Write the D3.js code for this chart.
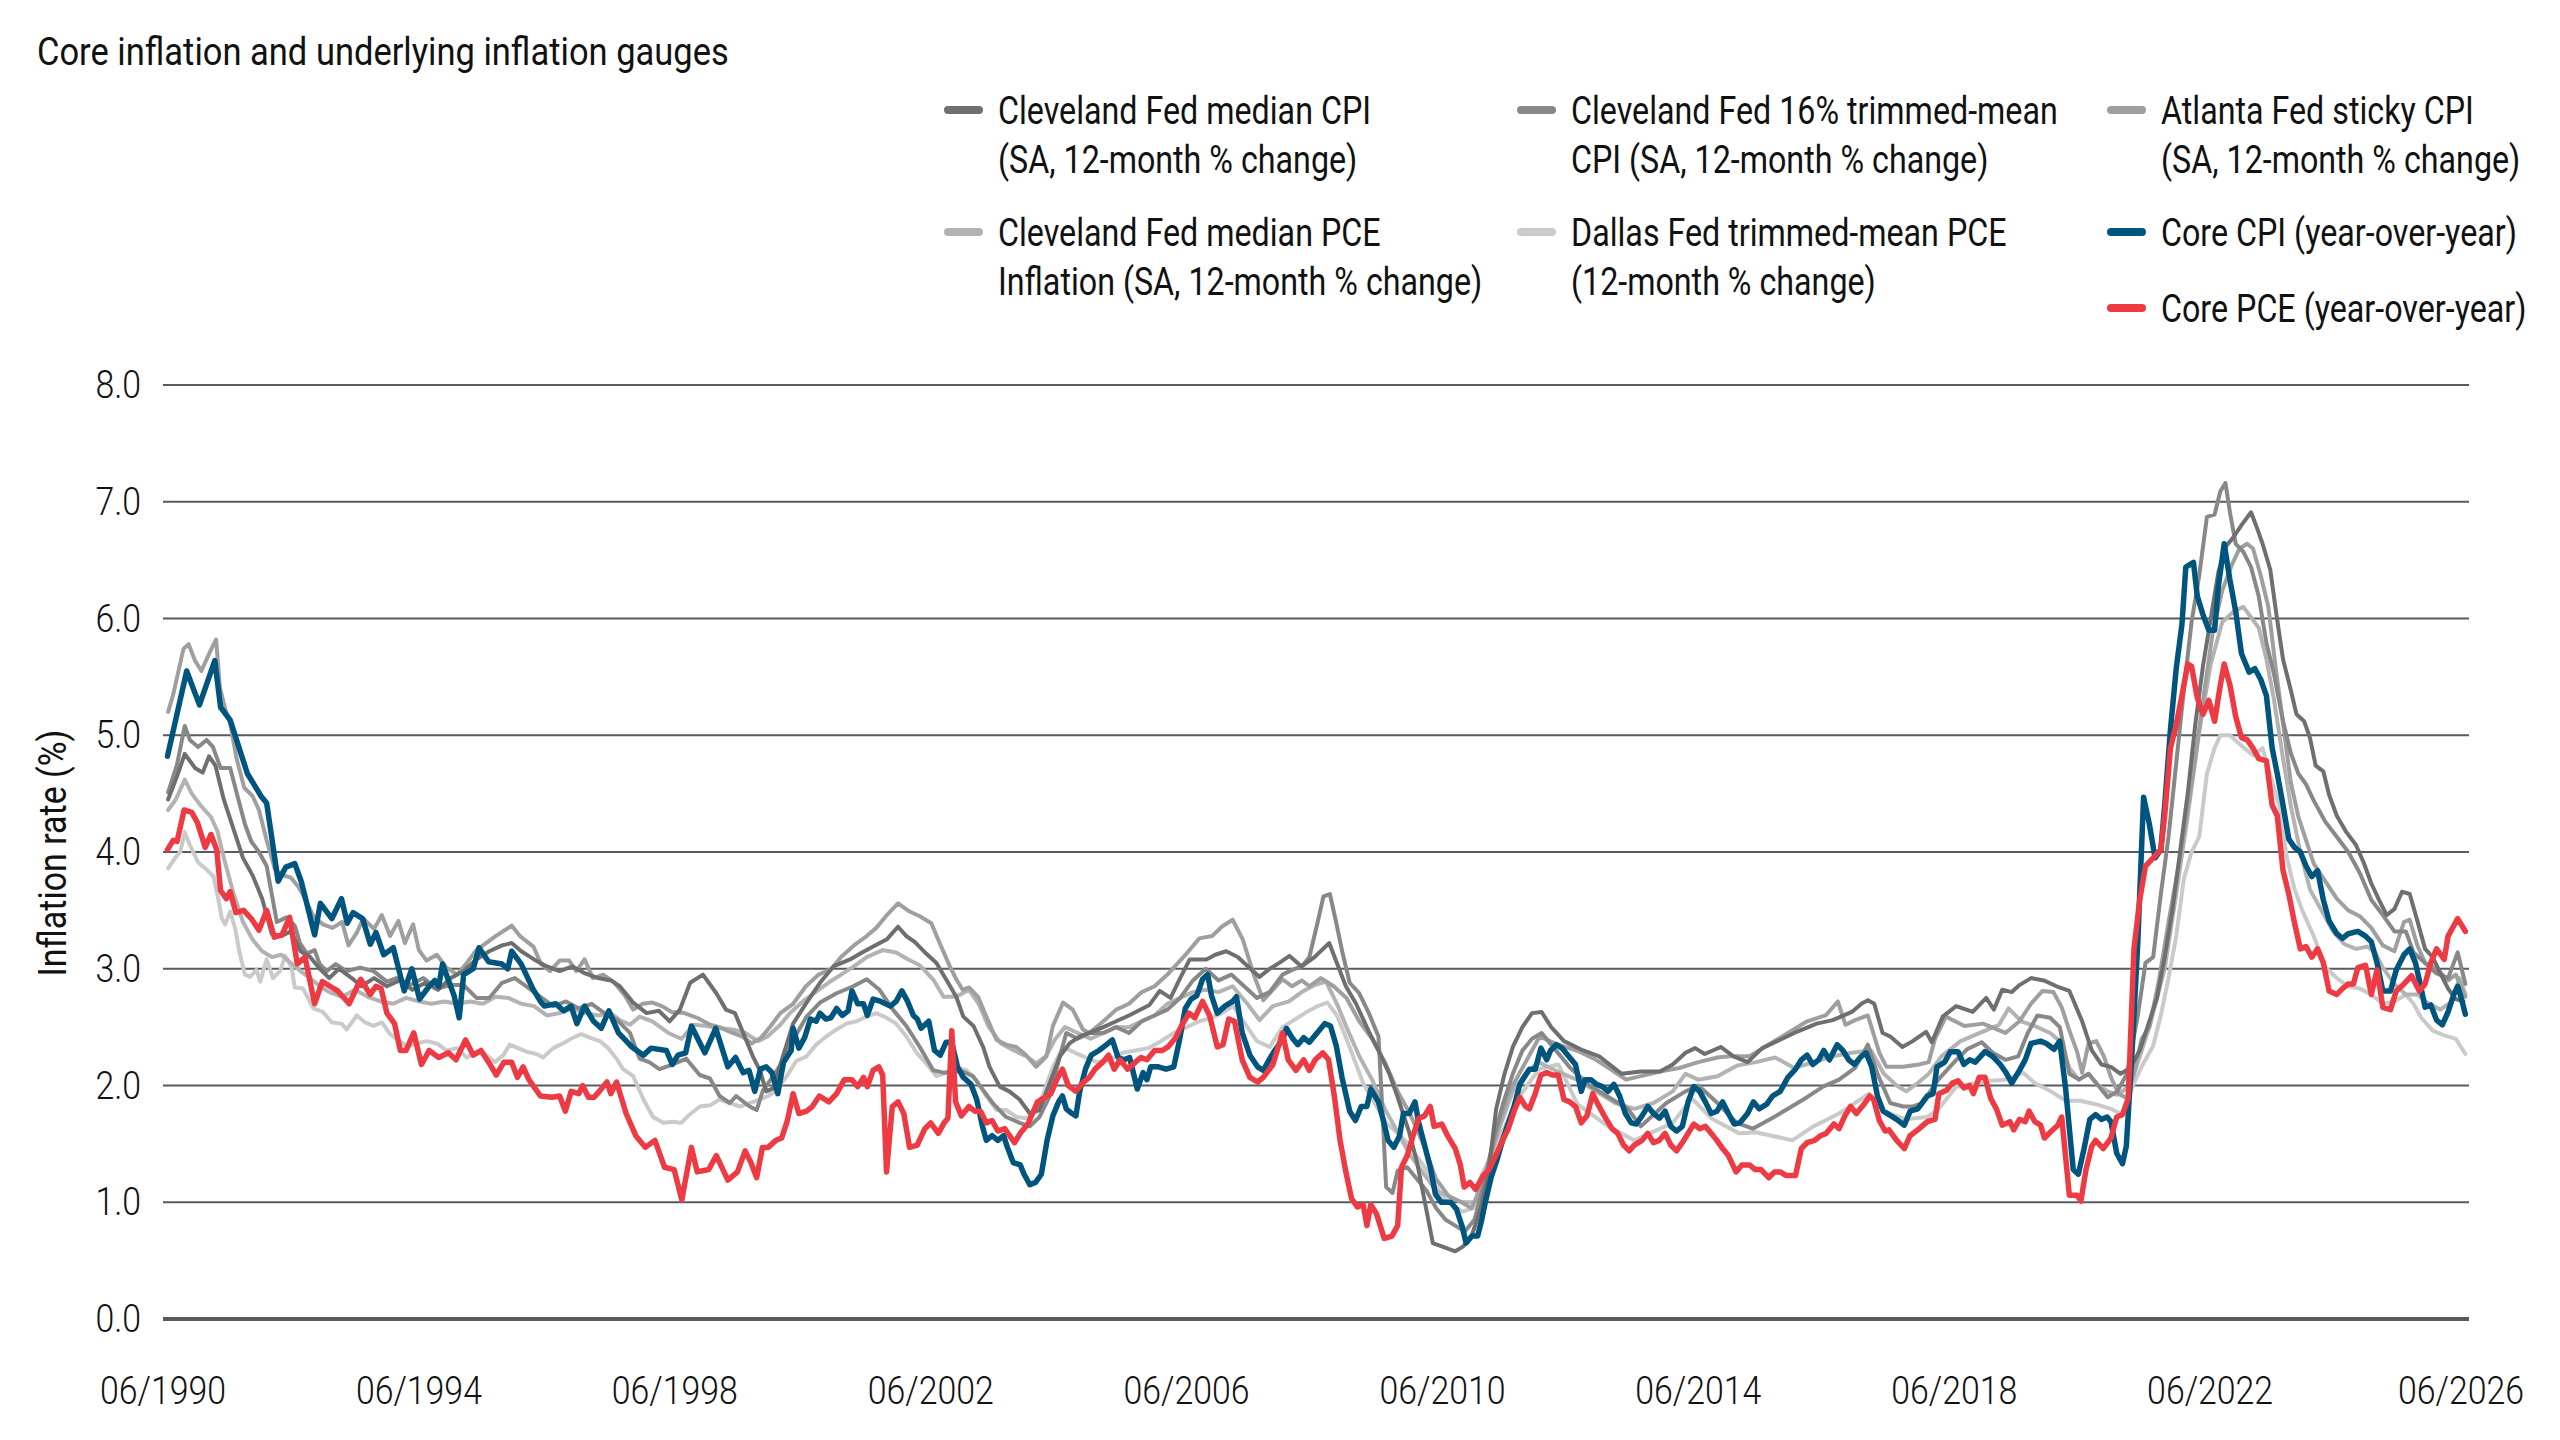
<!DOCTYPE html>
<html><head><meta charset="utf-8">
<script src="https://cdn.jsdelivr.net/npm/d3@7"></script>
<style>
html,body{margin:0;padding:0;background:#fff;}
svg text{font-family:Roboto,"Liberation Sans",sans-serif;fill:#111;}
</style></head>
<body>
<svg id="chart" width="2560" height="1440"></svg>
<script>
// ---------------- DATA (decimal year, % value) ----------------
const xTickLabels = ["06/1990","06/1994","06/1998","06/2002","06/2006","06/2010","06/2014","06/2018","06/2022","06/2026"];
const yTicks = [0,1,2,3,4,5,6,7,8];

const coreCPI = [[1990.57,4.82],[1990.87,5.55],[1991.07,5.26],[1991.31,5.64],[1991.4,5.24],[1991.55,5.13],[1991.82,4.67],[1991.91,4.59],[1992.03,4.48],[1992.12,4.42],[1992.3,3.75],[1992.42,3.87],[1992.56,3.9],[1992.66,3.75],[1992.87,3.29],[1992.96,3.56],[1993.14,3.43],[1993.29,3.6],[1993.38,3.39],[1993.47,3.48],[1993.62,3.43],[1993.74,3.21],[1993.83,3.31],[1993.95,3.12],[1994.1,3.18],[1994.27,2.81],[1994.39,3.0],[1994.51,2.74],[1994.66,2.85],[1994.75,2.9],[1994.81,2.85],[1994.87,3.04],[1995.05,2.77],[1995.13,2.58],[1995.2,2.95],[1995.35,3.0],[1995.44,3.18],[1995.59,3.06],[1995.8,3.04],[1995.89,3.0],[1995.95,3.15],[1996.1,3.04],[1996.28,2.83],[1996.4,2.72],[1996.46,2.68],[1996.64,2.7],[1996.76,2.64],[1996.88,2.68],[1996.97,2.53],[1997.09,2.68],[1997.23,2.55],[1997.35,2.49],[1997.47,2.64],[1997.62,2.45],[1997.83,2.33],[1998.01,2.26],[1998.13,2.32],[1998.37,2.3],[1998.46,2.18],[1998.55,2.26],[1998.67,2.28],[1998.76,2.51],[1998.97,2.28],[1999.14,2.49],[1999.33,2.16],[1999.45,2.24],[1999.57,2.11],[1999.66,2.13],[1999.75,1.95],[1999.84,2.14],[1999.93,2.16],[2000.02,2.11],[2000.11,1.93],[2000.2,2.2],[2000.32,2.3],[2000.35,2.49],[2000.44,2.32],[2000.53,2.41],[2000.62,2.57],[2000.71,2.55],[2000.77,2.62],[2000.86,2.57],[2000.94,2.58],[2001.03,2.66],[2001.12,2.6],[2001.21,2.64],[2001.27,2.81],[2001.36,2.7],[2001.45,2.7],[2001.51,2.6],[2001.6,2.74],[2001.72,2.72],[2001.87,2.68],[2001.96,2.72],[2002.05,2.81],[2002.14,2.72],[2002.23,2.6],[2002.29,2.57],[2002.35,2.49],[2002.47,2.55],[2002.56,2.3],[2002.65,2.26],[2002.74,2.37],[2002.83,2.37],[2002.92,2.16],[2003.01,2.07],[2003.13,2.01],[2003.22,1.88],[2003.31,1.65],[2003.37,1.53],[2003.46,1.57],[2003.55,1.53],[2003.64,1.57],[2003.7,1.47],[2003.79,1.34],[2003.9,1.32],[2003.96,1.24],[2004.05,1.15],[2004.14,1.17],[2004.23,1.24],[2004.32,1.53],[2004.41,1.74],[2004.5,1.86],[2004.56,1.91],[2004.62,1.8],[2004.71,1.76],[2004.77,1.74],[2004.83,1.95],[2004.92,2.14],[2005.01,2.26],[2005.13,2.3],[2005.25,2.35],[2005.34,2.39],[2005.43,2.24],[2005.52,2.22],[2005.61,2.24],[2005.73,1.97],[2005.82,2.11],[2005.88,2.05],[2005.94,2.16],[2006.06,2.16],[2006.18,2.14],[2006.3,2.16],[2006.39,2.39],[2006.48,2.66],[2006.57,2.74],[2006.66,2.77],[2006.75,2.91],[2006.83,2.95],[2006.89,2.77],[2006.98,2.62],[2007.1,2.68],[2007.22,2.72],[2007.28,2.76],[2007.37,2.45],[2007.49,2.26],[2007.61,2.16],[2007.7,2.13],[2007.79,2.22],[2007.88,2.3],[2008.0,2.39],[2008.06,2.49],[2008.15,2.41],[2008.24,2.35],[2008.33,2.41],[2008.42,2.37],[2008.54,2.45],[2008.66,2.53],[2008.75,2.51],[2008.84,2.34],[2008.93,2.07],[2009.05,1.78],[2009.14,1.7],[2009.23,1.82],[2009.32,1.82],[2009.38,1.97],[2009.5,1.86],[2009.59,1.67],[2009.65,1.53],[2009.74,1.47],[2009.83,1.57],[2009.89,1.76],[2009.98,1.76],[2010.07,1.86],[2010.13,1.68],[2010.22,1.49],[2010.31,1.3],[2010.39,1.07],[2010.48,1.0],[2010.63,1.0],[2010.72,0.94],[2010.81,0.79],[2010.87,0.65],[2010.96,0.71],[2011.05,0.71],[2011.11,0.84],[2011.17,1.0],[2011.26,1.21],[2011.35,1.36],[2011.44,1.53],[2011.53,1.68],[2011.62,1.82],[2011.71,2.01],[2011.8,2.09],[2011.86,2.14],[2011.95,2.14],[2012.04,2.32],[2012.13,2.22],[2012.19,2.3],[2012.28,2.35],[2012.37,2.32],[2012.46,2.26],[2012.58,2.18],[2012.67,1.95],[2012.73,2.05],[2012.82,2.05],[2012.91,2.01],[2013.0,1.99],[2013.09,1.95],[2013.18,2.01],[2013.27,1.91],[2013.36,1.76],[2013.45,1.68],[2013.53,1.67],[2013.62,1.74],[2013.71,1.82],[2013.8,1.76],[2013.89,1.72],[2013.98,1.78],[2014.07,1.65],[2014.16,1.61],[2014.25,1.65],[2014.34,1.86],[2014.43,1.99],[2014.52,1.95],[2014.61,1.86],[2014.7,1.76],[2014.79,1.78],[2014.88,1.86],[2014.97,1.76],[2015.06,1.67],[2015.15,1.68],[2015.27,1.76],[2015.36,1.86],[2015.45,1.8],[2015.57,1.84],[2015.66,1.91],[2015.78,1.95],[2015.9,2.07],[2016.02,2.14],[2016.11,2.22],[2016.2,2.26],[2016.29,2.18],[2016.38,2.22],[2016.46,2.3],[2016.55,2.22],[2016.67,2.35],[2016.76,2.3],[2016.85,2.22],[2016.94,2.18],[2017.03,2.24],[2017.12,2.28],[2017.21,2.16],[2017.3,1.91],[2017.39,1.78],[2017.48,1.75],[2017.6,1.71],[2017.72,1.66],[2017.81,1.78],[2017.93,1.8],[2018.08,1.91],[2018.17,1.93],[2018.23,2.16],[2018.35,2.2],[2018.44,2.29],[2018.56,2.29],[2018.65,2.18],[2018.74,2.22],[2018.83,2.2],[2018.98,2.29],[2019.1,2.25],[2019.22,2.18],[2019.31,2.11],[2019.4,2.02],[2019.52,2.13],[2019.61,2.22],[2019.7,2.36],[2019.85,2.38],[2019.94,2.36],[2020.06,2.31],[2020.15,2.38],[2020.24,1.98],[2020.36,1.28],[2020.44,1.24],[2020.53,1.46],[2020.62,1.71],[2020.71,1.75],[2020.8,1.71],[2020.89,1.73],[2020.95,1.69],[2021.04,1.42],[2021.13,1.33],[2021.19,1.48],[2021.28,2.29],[2021.37,3.23],[2021.46,4.47],[2021.55,4.24],[2021.64,3.95],[2021.73,4.02],[2021.79,4.4],[2021.88,5.05],[2021.97,5.57],[2022.06,5.95],[2022.12,6.44],[2022.24,6.48],[2022.3,6.19],[2022.39,6.03],[2022.48,5.9],[2022.57,5.9],[2022.63,6.28],[2022.72,6.64],[2022.81,6.33],[2022.9,6.06],[2022.99,5.7],[2023.11,5.54],[2023.2,5.57],[2023.29,5.48],[2023.38,5.34],[2023.47,4.89],[2023.55,4.67],[2023.64,4.4],[2023.73,4.11],[2023.82,4.04],[2023.91,4.0],[2024.0,3.88],[2024.09,3.79],[2024.18,3.84],[2024.27,3.59],[2024.36,3.41],[2024.48,3.3],[2024.57,3.26],[2024.66,3.3],[2024.81,3.32],[2024.93,3.28],[2025.02,3.23],[2025.11,3.05],[2025.2,2.81],[2025.32,2.81],[2025.41,2.99],[2025.53,3.12],[2025.62,3.17],[2025.71,3.05],[2025.8,2.83],[2025.86,2.67],[2025.95,2.69],[2026.04,2.56],[2026.13,2.52],[2026.22,2.63],[2026.31,2.78],[2026.37,2.85],[2026.43,2.74],[2026.49,2.61]];

const corePCE = [[1990.57,4.02],[1990.66,4.1],[1990.72,4.09],[1990.83,4.36],[1990.95,4.34],[1991.04,4.25],[1991.16,4.04],[1991.25,4.15],[1991.34,4.02],[1991.4,3.67],[1991.49,3.6],[1991.55,3.66],[1991.64,3.48],[1991.76,3.5],[1991.88,3.43],[1992.0,3.33],[1992.12,3.5],[1992.24,3.27],[1992.36,3.29],[1992.48,3.44],[1992.6,3.04],[1992.72,3.1],[1992.87,2.7],[1992.99,2.89],[1993.11,2.85],[1993.23,2.81],[1993.41,2.7],[1993.59,2.91],[1993.74,2.78],[1993.83,2.85],[1993.91,2.83],[1994.0,2.62],[1994.12,2.53],[1994.21,2.3],[1994.3,2.3],[1994.42,2.45],[1994.54,2.18],[1994.66,2.3],[1994.81,2.24],[1994.96,2.28],[1995.08,2.22],[1995.23,2.39],[1995.35,2.26],[1995.47,2.3],[1995.59,2.2],[1995.71,2.09],[1995.83,2.2],[1995.95,2.2],[1996.04,2.07],[1996.13,2.16],[1996.22,2.05],[1996.4,1.91],[1996.58,1.9],[1996.7,1.91],[1996.79,1.78],[1996.88,1.95],[1997.0,1.93],[1997.06,2.0],[1997.15,1.9],[1997.24,1.9],[1997.32,1.95],[1997.44,2.03],[1997.5,1.93],[1997.59,2.03],[1997.74,1.76],[1997.89,1.57],[1998.04,1.47],[1998.19,1.53],[1998.34,1.3],[1998.49,1.28],[1998.61,1.02],[1998.76,1.47],[1998.85,1.26],[1999.03,1.28],[1999.15,1.4],[1999.33,1.19],[1999.48,1.26],[1999.6,1.44],[1999.69,1.34],[1999.78,1.21],[1999.87,1.47],[1999.96,1.47],[2000.08,1.53],[2000.17,1.55],[2000.26,1.7],[2000.35,1.93],[2000.44,1.76],[2000.56,1.78],[2000.65,1.82],[2000.76,1.91],[2000.91,1.86],[2001.03,1.93],[2001.15,2.05],[2001.27,2.05],[2001.36,1.99],[2001.45,2.07],[2001.51,1.99],[2001.6,2.13],[2001.69,2.16],[2001.75,2.09],[2001.81,1.26],[2001.9,1.82],[2001.99,1.86],[2002.08,1.76],[2002.17,1.47],[2002.29,1.49],[2002.41,1.63],[2002.5,1.68],[2002.62,1.59],[2002.71,1.68],[2002.77,1.72],[2002.83,2.47],[2002.89,1.86],[2002.98,1.74],[2003.1,1.82],[2003.19,1.78],[2003.28,1.78],[2003.37,1.68],[2003.46,1.7],[2003.55,1.61],[2003.66,1.63],[2003.81,1.51],[2003.9,1.59],[2004.02,1.67],[2004.17,1.86],[2004.29,1.9],[2004.38,1.93],[2004.47,2.05],[2004.56,2.14],[2004.65,2.0],[2004.77,1.95],[2004.89,2.03],[2004.98,2.07],[2005.07,2.14],[2005.19,2.2],[2005.28,2.26],[2005.37,2.14],[2005.46,2.22],[2005.58,2.14],[2005.7,2.2],[2005.79,2.24],[2005.88,2.22],[2006.0,2.3],[2006.12,2.3],[2006.21,2.33],[2006.33,2.41],[2006.42,2.51],[2006.54,2.62],[2006.63,2.58],[2006.75,2.72],[2006.86,2.6],[2006.98,2.33],[2007.07,2.35],[2007.16,2.57],[2007.25,2.55],[2007.37,2.22],[2007.49,2.07],[2007.61,2.03],[2007.7,2.07],[2007.85,2.18],[2008.0,2.45],[2008.09,2.22],[2008.21,2.13],[2008.33,2.22],[2008.42,2.13],[2008.51,2.22],[2008.63,2.28],[2008.72,2.22],[2008.81,1.91],[2008.9,1.53],[2008.99,1.26],[2009.08,1.03],[2009.17,0.96],[2009.26,0.98],[2009.32,0.8],[2009.38,0.98],[2009.47,0.9],[2009.59,0.69],[2009.71,0.71],[2009.8,0.8],[2009.86,1.3],[2009.95,1.4],[2010.04,1.57],[2010.13,1.72],[2010.22,1.74],[2010.31,1.82],[2010.37,1.65],[2010.49,1.67],[2010.58,1.57],[2010.7,1.46],[2010.78,1.32],[2010.84,1.13],[2010.93,1.17],[2011.02,1.11],[2011.14,1.23],[2011.23,1.28],[2011.35,1.42],[2011.44,1.53],[2011.53,1.63],[2011.62,1.78],[2011.71,1.9],[2011.8,1.82],[2011.86,1.8],[2011.95,1.93],[2012.04,2.09],[2012.13,2.11],[2012.22,2.09],[2012.31,2.09],[2012.4,1.88],[2012.49,1.86],[2012.58,1.82],[2012.67,1.68],[2012.76,1.74],[2012.85,1.93],[2012.93,1.84],[2013.03,1.74],[2013.15,1.63],[2013.24,1.59],[2013.33,1.49],[2013.42,1.44],[2013.5,1.49],[2013.62,1.53],[2013.71,1.59],[2013.8,1.51],[2013.89,1.53],[2013.98,1.59],[2014.07,1.49],[2014.16,1.44],[2014.25,1.51],[2014.34,1.59],[2014.43,1.67],[2014.52,1.63],[2014.61,1.65],[2014.7,1.59],[2014.79,1.53],[2014.88,1.46],[2014.97,1.4],[2015.09,1.26],[2015.18,1.32],[2015.3,1.32],[2015.39,1.28],[2015.48,1.28],[2015.6,1.21],[2015.69,1.26],[2015.78,1.26],[2015.87,1.23],[2016.02,1.23],[2016.11,1.46],[2016.2,1.51],[2016.32,1.53],[2016.41,1.57],[2016.5,1.59],[2016.62,1.67],[2016.7,1.63],[2016.79,1.74],[2016.88,1.82],[2016.97,1.76],[2017.09,1.84],[2017.18,1.91],[2017.24,1.88],[2017.33,1.7],[2017.42,1.61],[2017.48,1.62],[2017.6,1.53],[2017.72,1.46],[2017.81,1.57],[2017.93,1.62],[2018.08,1.69],[2018.2,1.71],[2018.26,1.93],[2018.38,1.96],[2018.47,2.02],[2018.56,2.04],[2018.65,1.98],[2018.74,2.0],[2018.8,1.93],[2018.89,2.07],[2018.98,2.07],[2019.07,1.89],[2019.16,1.8],[2019.25,1.66],[2019.37,1.69],[2019.43,1.62],[2019.52,1.71],[2019.61,1.69],[2019.67,1.78],[2019.76,1.69],[2019.85,1.66],[2019.91,1.55],[2020.0,1.6],[2020.12,1.66],[2020.18,1.73],[2020.3,1.06],[2020.42,1.06],[2020.48,1.01],[2020.56,1.28],[2020.65,1.48],[2020.71,1.53],[2020.83,1.46],[2020.95,1.55],[2021.04,1.73],[2021.13,1.75],[2021.22,1.89],[2021.31,3.17],[2021.4,3.59],[2021.49,3.88],[2021.61,3.95],[2021.73,4.02],[2021.79,4.31],[2021.88,4.89],[2021.97,5.09],[2022.06,5.34],[2022.15,5.61],[2022.21,5.59],[2022.3,5.32],[2022.39,5.18],[2022.48,5.3],[2022.57,5.12],[2022.66,5.43],[2022.72,5.61],[2022.81,5.43],[2022.9,5.16],[2022.99,4.98],[2023.08,4.96],[2023.17,4.89],[2023.26,4.8],[2023.38,4.78],[2023.47,4.4],[2023.55,4.31],[2023.64,3.84],[2023.73,3.64],[2023.82,3.39],[2023.91,3.17],[2024.0,3.19],[2024.09,3.1],[2024.18,3.17],[2024.27,3.05],[2024.36,2.81],[2024.48,2.78],[2024.57,2.83],[2024.66,2.87],[2024.74,2.87],[2024.81,3.01],[2024.93,3.03],[2025.02,2.78],[2025.11,2.99],[2025.2,2.67],[2025.32,2.65],[2025.41,2.81],[2025.53,2.87],[2025.65,2.94],[2025.77,2.81],[2025.86,2.87],[2025.95,3.05],[2026.04,3.17],[2026.16,3.08],[2026.22,3.28],[2026.37,3.43],[2026.49,3.32]];

const medianCPI = [[1990.58,4.45],[1990.72,4.65],[1990.84,4.84],[1991.0,4.72],[1991.12,4.68],[1991.22,4.82],[1991.32,4.74],[1991.45,4.45],[1991.6,4.2],[1991.75,3.95],[1991.9,3.8],[1992.05,3.6],[1992.2,3.3],[1992.35,3.28],[1992.5,3.32],[1992.65,3.15],[1992.8,3.1],[1992.95,3.0],[1993.1,2.92],[1993.25,3.0],[1993.45,2.92],[1993.6,2.85],[1993.8,2.92],[1994.0,2.85],[1994.2,2.9],[1994.4,2.82],[1994.6,2.88],[1994.8,2.82],[1995.0,2.92],[1995.2,2.98],[1995.4,3.08],[1995.6,3.15],[1995.8,3.2],[1995.95,3.22],[1996.1,3.15],[1996.3,3.08],[1996.5,3.02],[1996.7,2.98],[1996.9,3.02],[1997.1,2.96],[1997.3,2.92],[1997.5,2.9],[1997.64,2.85],[1997.85,2.71],[1998.06,2.62],[1998.25,2.64],[1998.42,2.55],[1998.58,2.65],[1998.74,2.88],[1998.94,2.95],[1999.15,2.79],[1999.3,2.65],[1999.44,2.62],[1999.57,2.45],[1999.72,2.25],[1999.83,2.13],[1999.93,1.95],[2000.05,1.98],[2000.14,2.16],[2000.35,2.53],[2000.56,2.71],[2000.77,2.88],[2000.98,3.02],[2001.24,3.08],[2001.4,3.13],[2001.6,3.19],[2001.81,3.25],[2001.99,3.36],[2002.12,3.28],[2002.25,3.23],[2002.43,3.13],[2002.59,3.05],[2002.74,2.91],[2002.9,2.76],[2003.01,2.59],[2003.17,2.51],[2003.32,2.33],[2003.42,2.16],[2003.58,1.99],[2003.73,1.95],[2003.89,1.88],[2004.05,1.76],[2004.2,1.79],[2004.36,2.02],[2004.52,2.25],[2004.67,2.36],[2004.83,2.42],[2004.98,2.45],[2005.2,2.5],[2005.4,2.55],[2005.6,2.6],[2005.92,2.69],[2006.08,2.81],[2006.25,2.75],[2006.4,2.92],[2006.55,3.08],[2006.81,3.08],[2006.95,3.12],[2007.12,3.15],[2007.3,3.1],[2007.5,3.0],[2007.64,2.93],[2007.8,3.0],[2007.95,3.05],[2008.11,3.11],[2008.3,3.02],[2008.5,3.1],[2008.73,3.22],[2008.85,3.05],[2008.99,2.85],[2009.15,2.7],[2009.36,2.45],[2009.5,2.3],[2009.67,2.1],[2009.8,1.9],[2009.98,1.6],[2010.1,1.35],[2010.19,1.1],[2010.35,0.65],[2010.5,0.62],[2010.7,0.58],[2010.82,0.62],[2010.95,0.7],[2011.1,0.95],[2011.22,1.25],[2011.34,1.8],[2011.47,2.1],[2011.6,2.33],[2011.75,2.5],[2011.9,2.62],[2012.05,2.63],[2012.2,2.5],[2012.4,2.38],[2012.7,2.3],[2012.95,2.25],[2013.3,2.1],[2013.6,2.12],[2013.9,2.12],[2014.1,2.18],[2014.3,2.28],[2014.45,2.32],[2014.6,2.27],[2014.85,2.33],[2015.05,2.25],[2015.27,2.2],[2015.5,2.32],[2015.77,2.39],[2016.0,2.45],[2016.35,2.53],[2016.6,2.56],[2016.9,2.63],[2017.05,2.7],[2017.15,2.73],[2017.25,2.7],[2017.38,2.45],[2017.5,2.42],[2017.69,2.33],[2017.85,2.38],[2018.06,2.46],[2018.15,2.37],[2018.32,2.59],[2018.53,2.68],[2018.79,2.63],[2019.0,2.75],[2019.12,2.65],[2019.25,2.82],[2019.4,2.8],[2019.52,2.86],[2019.7,2.92],[2019.9,2.9],[2020.1,2.85],[2020.3,2.81],[2020.5,2.55],[2020.65,2.3],[2020.8,2.18],[2020.95,2.16],[2021.1,2.1],[2021.25,2.15],[2021.4,2.3],[2021.55,2.55],[2021.67,2.75],[2021.79,3.1],[2021.91,3.5],[2022.03,4.0],[2022.15,4.5],[2022.27,5.1],[2022.39,5.6],[2022.51,6.0],[2022.63,6.4],[2022.75,6.62],[2022.87,6.7],[2022.99,6.8],[2023.14,6.91],[2023.23,6.78],[2023.32,6.64],[2023.44,6.42],[2023.53,6.06],[2023.64,5.65],[2023.76,5.39],[2023.85,5.18],[2023.97,5.12],[2024.06,4.98],[2024.15,4.74],[2024.27,4.69],[2024.36,4.49],[2024.48,4.31],[2024.63,4.17],[2024.78,4.06],[2024.9,3.91],[2025.02,3.73],[2025.14,3.59],[2025.26,3.46],[2025.38,3.51],[2025.5,3.66],[2025.62,3.64],[2025.74,3.41],[2025.86,3.17],[2025.98,3.1],[2026.1,2.96],[2026.22,2.83],[2026.34,2.74],[2026.46,2.72]];

const trimmedCPI = [[1990.58,4.51],[1990.72,4.75],[1990.84,5.08],[1990.92,4.96],[1991.05,4.9],[1991.18,4.96],[1991.28,4.9],[1991.4,4.72],[1991.55,4.72],[1991.65,4.51],[1991.78,4.24],[1991.88,4.09],[1992.0,4.0],[1992.12,3.88],[1992.2,3.64],[1992.28,3.4],[1992.43,3.44],[1992.56,3.37],[1992.64,3.22],[1992.75,3.13],[1992.87,3.16],[1992.95,3.04],[1993.06,2.98],[1993.2,3.04],[1993.37,2.98],[1993.58,3.01],[1993.79,2.98],[1994.0,2.89],[1994.15,2.92],[1994.36,2.86],[1994.57,2.92],[1994.78,2.83],[1995.0,2.86],[1995.2,2.86],[1995.4,2.75],[1995.6,2.75],[1995.8,2.88],[1996.0,2.92],[1996.2,2.84],[1996.4,2.76],[1996.6,2.68],[1996.8,2.72],[1997.0,2.66],[1997.2,2.7],[1997.4,2.62],[1997.6,2.56],[1997.8,2.45],[1997.95,2.23],[1998.1,2.2],[1998.26,2.14],[1998.42,2.17],[1998.68,2.23],[1998.89,2.09],[1999.05,2.06],[1999.2,1.91],[1999.36,1.85],[1999.46,1.91],[1999.67,1.82],[1999.78,1.79],[1999.88,1.96],[2000.04,2.08],[2000.2,2.22],[2000.35,2.39],[2000.56,2.59],[2000.77,2.71],[2001.03,2.79],[2001.29,2.85],[2001.5,2.91],[2001.7,2.82],[2001.91,2.65],[2002.12,2.51],[2002.33,2.33],[2002.54,2.13],[2002.7,2.11],[2002.85,2.12],[2003.0,2.12],[2003.16,2.08],[2003.32,1.96],[2003.47,1.85],[2003.68,1.73],[2003.89,1.68],[2004.05,1.65],[2004.2,1.73],[2004.36,1.91],[2004.52,2.25],[2004.62,2.45],[2004.8,2.4],[2004.98,2.45],[2005.2,2.45],[2005.4,2.5],[2005.6,2.45],[2005.8,2.55],[2006.0,2.6],[2006.2,2.65],[2006.4,2.75],[2006.6,2.9],[2006.8,3.0],[2007.0,2.9],[2007.2,2.95],[2007.4,2.85],[2007.6,2.75],[2007.8,2.8],[2008.0,2.95],[2008.15,2.99],[2008.3,3.02],[2008.42,3.1],[2008.55,3.4],[2008.64,3.62],[2008.74,3.64],[2008.83,3.42],[2008.94,3.13],[2009.05,2.88],[2009.2,2.79],[2009.35,2.62],[2009.5,2.42],[2009.56,1.8],[2009.62,1.13],[2009.72,1.08],[2009.8,1.27],[2009.95,1.3],[2010.1,1.2],[2010.25,1.1],[2010.4,0.95],[2010.55,0.85],[2010.7,0.8],[2010.85,0.75],[2011.0,0.85],[2011.15,1.15],[2011.3,1.55],[2011.45,1.85],[2011.6,2.1],[2011.75,2.3],[2011.9,2.4],[2012.05,2.45],[2012.2,2.35],[2012.5,2.15],[2012.8,2.0],[2013.1,1.9],[2013.4,1.8],[2013.6,1.65],[2013.8,1.75],[2014.0,1.85],[2014.3,1.95],[2014.5,2.0],[2014.8,1.85],[2015.1,1.68],[2015.35,1.63],[2015.65,1.72],[2015.9,1.8],[2016.2,1.9],[2016.45,1.99],[2016.7,2.05],[2016.95,2.15],[2017.15,2.35],[2017.3,2.1],[2017.5,1.85],[2017.7,1.82],[2017.85,1.82],[2018.0,1.85],[2018.25,2.05],[2018.5,2.2],[2018.7,2.31],[2018.93,2.37],[2019.1,2.28],[2019.3,2.22],[2019.5,2.25],[2019.65,2.45],[2019.8,2.6],[2020.0,2.58],[2020.15,2.5],[2020.3,2.1],[2020.45,2.05],[2020.6,2.1],[2020.75,2.0],[2020.9,1.9],[2021.05,1.95],[2021.2,2.1],[2021.37,2.6],[2021.49,3.05],[2021.61,3.1],[2021.73,3.64],[2021.85,4.13],[2021.97,4.76],[2022.09,5.39],[2022.21,5.97],[2022.33,6.37],[2022.45,6.87],[2022.57,6.89],[2022.66,7.09],[2022.74,7.16],[2022.81,6.91],[2022.9,6.64],[2023.02,6.57],[2023.14,6.44],[2023.26,6.19],[2023.38,5.79],[2023.5,5.52],[2023.64,5.12],[2023.76,4.85],[2023.88,4.67],[2024.0,4.58],[2024.12,4.44],[2024.3,4.26],[2024.48,4.13],[2024.66,4.0],[2024.84,3.82],[2025.02,3.59],[2025.2,3.46],[2025.38,3.32],[2025.56,3.32],[2025.68,3.14],[2025.86,3.05],[2026.04,2.96],[2026.22,2.92],[2026.37,3.14],[2026.49,2.87]];

const stickyCPI = [[1990.58,5.2],[1990.66,5.35],[1990.82,5.74],[1990.9,5.78],[1991.0,5.64],[1991.1,5.55],[1991.23,5.71],[1991.33,5.82],[1991.39,5.41],[1991.47,5.23],[1991.55,5.1],[1991.65,4.8],[1991.77,4.55],[1991.9,4.48],[1992.0,4.36],[1992.12,4.1],[1992.25,3.85],[1992.38,3.8],[1992.5,3.78],[1992.62,3.7],[1992.72,3.6],[1992.85,3.45],[1993.0,3.38],[1993.15,3.35],[1993.3,3.4],[1993.4,3.2],[1993.53,3.31],[1993.63,3.43],[1993.8,3.34],[1993.92,3.46],[1994.05,3.28],[1994.18,3.41],[1994.28,3.22],[1994.41,3.38],[1994.5,3.16],[1994.62,3.07],[1994.78,3.12],[1994.93,3.01],[1995.1,2.95],[1995.25,3.05],[1995.4,3.16],[1995.55,3.22],[1995.7,3.28],[1995.87,3.34],[1995.95,3.37],[1996.08,3.28],[1996.29,3.19],[1996.41,3.04],[1996.55,2.98],[1996.7,3.07],[1996.85,3.07],[1996.96,2.98],[1997.09,3.08],[1997.22,2.92],[1997.38,2.95],[1997.54,2.89],[1997.72,2.77],[1997.85,2.65],[1998.0,2.7],[1998.15,2.71],[1998.3,2.68],[1998.45,2.63],[1998.65,2.62],[1998.85,2.58],[1999.05,2.52],[1999.2,2.5],[1999.4,2.45],[1999.55,2.42],[1999.7,2.36],[1999.85,2.41],[2000.0,2.51],[2000.15,2.62],[2000.35,2.7],[2000.55,2.85],[2000.75,2.95],[2000.95,3.0],[2001.1,3.1],[2001.3,3.2],[2001.5,3.28],[2001.65,3.35],[2001.8,3.45],[2001.99,3.56],[2002.17,3.49],[2002.33,3.45],[2002.51,3.39],[2002.64,3.22],[2002.8,3.02],[2002.9,2.91],[2003.0,2.82],[2003.1,2.84],[2003.24,2.76],[2003.37,2.59],[2003.53,2.39],[2003.68,2.35],[2003.84,2.33],[2003.99,2.26],[2004.15,2.16],[2004.31,2.25],[2004.41,2.51],[2004.57,2.71],[2004.72,2.65],[2004.88,2.48],[2004.98,2.45],[2005.2,2.55],[2005.4,2.65],[2005.6,2.7],[2005.8,2.8],[2006.0,2.85],[2006.2,2.95],[2006.5,3.13],[2006.7,3.26],[2006.9,3.28],[2007.05,3.36],[2007.22,3.42],[2007.38,3.25],[2007.55,2.95],[2007.7,2.73],[2007.85,2.82],[2008.0,2.91],[2008.15,2.85],[2008.3,2.9],[2008.42,2.85],[2008.6,2.92],[2008.8,2.85],[2009.0,2.75],[2009.2,2.55],[2009.4,2.4],[2009.6,2.2],[2009.8,1.95],[2010.0,1.75],[2010.2,1.5],[2010.4,1.2],[2010.6,1.05],[2010.8,1.0],[2010.95,0.95],[2011.1,1.1],[2011.25,1.4],[2011.4,1.7],[2011.55,1.95],[2011.7,2.1],[2011.85,2.25],[2012.02,2.42],[2012.3,2.35],[2012.6,2.3],[2012.9,2.22],[2013.1,2.15],[2013.37,2.05],[2013.6,2.08],[2013.9,2.12],[2014.2,2.15],[2014.5,2.2],[2014.8,2.24],[2015.0,2.25],[2015.3,2.25],[2015.66,2.37],[2015.9,2.45],[2016.2,2.55],[2016.49,2.6],[2016.68,2.72],[2016.8,2.52],[2016.95,2.56],[2017.15,2.6],[2017.33,2.28],[2017.44,2.16],[2017.7,2.16],[2017.95,2.18],[2018.1,2.2],[2018.2,2.4],[2018.37,2.59],[2018.66,2.51],[2018.95,2.53],[2019.3,2.45],[2019.52,2.55],[2019.7,2.7],[2019.88,2.81],[2020.05,2.8],[2020.18,2.67],[2020.3,2.47],[2020.42,2.29],[2020.5,2.11],[2020.6,2.36],[2020.72,2.38],[2020.84,2.25],[2020.95,2.07],[2021.07,1.93],[2021.2,1.89],[2021.31,2.11],[2021.43,2.4],[2021.55,2.5],[2021.7,2.9],[2021.85,3.4],[2022.03,3.95],[2022.21,4.58],[2022.39,5.3],[2022.54,5.88],[2022.69,6.24],[2022.84,6.46],[2022.96,6.6],[2023.08,6.64],[2023.17,6.6],[2023.29,6.37],[2023.41,6.1],[2023.52,5.6],[2023.64,5.1],[2023.76,4.6],[2023.88,4.3],[2024.0,4.1],[2024.12,3.9],[2024.3,3.75],[2024.48,3.6],[2024.66,3.5],[2024.84,3.45],[2025.02,3.35],[2025.2,3.2],[2025.38,3.15],[2025.53,3.4],[2025.62,3.42],[2025.74,3.2],[2025.86,3.05],[2026.04,3.0],[2026.22,2.9],[2026.34,2.95],[2026.49,2.76]];

const medianPCE = [[1990.58,4.36],[1990.7,4.45],[1990.84,4.62],[1990.95,4.5],[1991.1,4.39],[1991.25,4.3],[1991.35,4.18],[1991.45,3.95],[1991.6,3.65],[1991.75,3.4],[1991.9,3.25],[1992.05,3.15],[1992.2,3.1],[1992.35,3.12],[1992.5,3.05],[1992.65,2.98],[1992.8,2.92],[1992.95,2.85],[1993.1,2.8],[1993.3,2.76],[1993.5,2.82],[1993.7,2.76],[1993.9,2.72],[1994.1,2.7],[1994.3,2.75],[1994.5,2.72],[1994.7,2.7],[1994.9,2.72],[1995.1,2.7],[1995.3,2.72],[1995.5,2.7],[1995.7,2.76],[1995.9,2.75],[1996.1,2.7],[1996.3,2.68],[1996.5,2.6],[1996.7,2.62],[1996.9,2.66],[1997.1,2.62],[1997.3,2.6],[1997.5,2.62],[1997.64,2.56],[1997.8,2.52],[1997.95,2.59],[1998.15,2.55],[1998.4,2.45],[1998.6,2.4],[1998.8,2.52],[1999.0,2.51],[1999.2,2.49],[1999.4,2.48],[1999.6,2.45],[1999.8,2.38],[1999.95,2.42],[2000.15,2.52],[2000.3,2.62],[2000.5,2.72],[2000.7,2.8],[2000.9,2.88],[2001.1,2.95],[2001.3,3.02],[2001.5,3.1],[2001.75,3.16],[2001.96,3.14],[2002.15,3.08],[2002.33,3.03],[2002.55,2.9],[2002.7,2.76],[2002.9,2.76],[2003.1,2.82],[2003.25,2.7],[2003.4,2.51],[2003.6,2.36],[2003.8,2.3],[2004.0,2.25],[2004.15,2.19],[2004.3,2.25],[2004.45,2.4],[2004.6,2.5],[2004.8,2.45],[2005.0,2.4],[2005.2,2.45],[2005.4,2.5],[2005.6,2.5],[2005.8,2.55],[2006.0,2.6],[2006.2,2.7],[2006.4,2.75],[2006.6,2.8],[2006.8,2.82],[2007.0,2.8],[2007.22,2.85],[2007.45,2.7],[2007.64,2.56],[2007.85,2.68],[2008.1,2.72],[2008.3,2.8],[2008.5,2.86],[2008.68,2.89],[2008.85,2.7],[2009.0,2.5],[2009.2,2.25],[2009.4,2.05],[2009.6,1.8],[2009.8,1.6],[2010.0,1.4],[2010.2,1.25],[2010.4,1.1],[2010.6,1.05],[2010.8,1.0],[2011.0,1.0],[2011.2,1.3],[2011.4,1.65],[2011.6,1.95],[2011.8,2.1],[2012.0,2.2],[2012.3,2.12],[2012.6,2.05],[2012.9,1.95],[2013.2,1.85],[2013.5,1.8],[2013.8,1.85],[2014.1,1.95],[2014.3,2.1],[2014.5,2.05],[2014.8,2.08],[2015.1,2.17],[2015.4,2.2],[2015.7,2.24],[2016.0,2.15],[2016.3,2.2],[2016.6,2.25],[2016.9,2.28],[2017.2,2.3],[2017.4,2.1],[2017.6,2.0],[2017.75,1.95],[2017.95,2.03],[2018.1,2.1],[2018.3,2.25],[2018.6,2.38],[2018.9,2.45],[2019.2,2.52],[2019.35,2.66],[2019.55,2.55],[2019.8,2.5],[2020.0,2.45],[2020.15,2.38],[2020.3,2.15],[2020.45,2.05],[2020.6,2.1],[2020.75,2.0],[2020.9,1.95],[2021.05,1.92],[2021.2,1.98],[2021.31,2.1],[2021.55,2.5],[2021.79,3.0],[2021.97,3.64],[2022.15,4.31],[2022.33,5.03],[2022.51,5.61],[2022.69,5.97],[2022.87,6.06],[2023.02,6.1],[2023.14,6.01],[2023.26,5.92],[2023.38,5.65],[2023.5,5.3],[2023.64,4.8],[2023.76,4.4],[2023.91,4.0],[2024.06,3.68],[2024.24,3.5],[2024.42,3.32],[2024.6,3.21],[2024.78,3.17],[2024.96,3.19],[2025.08,3.14],[2025.2,3.01],[2025.38,2.87],[2025.56,2.78],[2025.74,2.78],[2025.92,2.7],[2026.1,2.65],[2026.28,2.72],[2026.4,2.92],[2026.49,2.78]];

const dallasPCE = [[1990.58,3.86],[1990.69,3.95],[1990.77,4.0],[1990.84,4.17],[1990.92,4.06],[1991.05,3.91],[1991.18,3.85],[1991.29,3.79],[1991.36,3.61],[1991.42,3.43],[1991.47,3.38],[1991.55,3.49],[1991.63,3.34],[1991.7,3.13],[1991.78,2.95],[1991.86,2.93],[1991.96,2.99],[1992.02,2.89],[1992.12,3.08],[1992.22,2.92],[1992.33,2.98],[1992.41,3.11],[1992.51,3.01],[1992.56,2.84],[1992.69,2.83],[1992.85,2.66],[1993.0,2.63],[1993.14,2.54],[1993.29,2.53],[1993.37,2.48],[1993.53,2.6],[1993.66,2.54],[1993.79,2.51],[1993.92,2.54],[1994.05,2.44],[1994.2,2.38],[1994.33,2.33],[1994.46,2.36],[1994.62,2.38],[1994.78,2.36],[1994.93,2.3],[1995.09,2.32],[1995.25,2.24],[1995.4,2.29],[1995.53,2.27],[1995.69,2.2],[1995.82,2.26],[1995.92,2.35],[1996.05,2.32],[1996.18,2.29],[1996.34,2.27],[1996.44,2.24],[1996.6,2.32],[1996.75,2.36],[1996.91,2.41],[1997.04,2.44],[1997.17,2.41],[1997.33,2.38],[1997.46,2.32],[1997.59,2.23],[1997.69,2.14],[1997.85,2.08],[1998.01,1.88],[1998.16,1.73],[1998.32,1.68],[1998.47,1.69],[1998.6,1.68],[1998.73,1.75],[1998.89,1.82],[1999.05,1.83],[1999.2,1.88],[1999.36,1.85],[1999.52,1.82],[1999.67,1.85],[1999.83,1.88],[1999.96,1.91],[2000.09,1.96],[2000.25,2.08],[2000.4,2.21],[2000.56,2.25],[2000.71,2.35],[2000.87,2.42],[2001.03,2.48],[2001.18,2.53],[2001.34,2.55],[2001.5,2.59],[2001.65,2.62],[2001.81,2.58],[2001.96,2.53],[2002.12,2.42],[2002.28,2.28],[2002.43,2.19],[2002.59,2.08],[2002.75,2.11],[2002.9,2.15],[2003.06,2.13],[2003.21,2.05],[2003.37,1.91],[2003.53,1.79],[2003.68,1.79],[2003.84,1.73],[2003.99,1.72],[2004.1,1.75],[2004.25,1.91],[2004.41,2.16],[2004.57,2.33],[2004.72,2.29],[2004.88,2.25],[2005.1,2.2],[2005.3,2.22],[2005.5,2.28],[2005.7,2.3],[2005.9,2.32],[2006.1,2.38],[2006.3,2.45],[2006.5,2.5],[2006.7,2.55],[2006.9,2.58],[2007.05,2.62],[2007.23,2.68],[2007.45,2.5],[2007.6,2.38],[2007.8,2.33],[2008.0,2.5],[2008.15,2.55],[2008.35,2.62],[2008.55,2.68],[2008.7,2.71],[2008.85,2.6],[2009.02,2.37],[2009.26,2.02],[2009.62,1.68],[2009.92,1.53],[2010.22,1.3],[2010.52,1.03],[2010.81,0.92],[2010.99,0.95],[2011.11,1.23],[2011.41,1.57],[2011.71,1.91],[2012.01,2.14],[2012.31,2.18],[2012.61,1.84],[2013.09,1.65],[2013.5,1.53],[2014.1,1.68],[2014.4,1.89],[2014.7,1.72],[2015.14,1.59],[2015.4,1.6],[2015.97,1.53],[2016.3,1.65],[2016.7,1.76],[2017.17,1.93],[2017.4,1.78],[2017.74,1.71],[2018.08,1.73],[2018.26,1.8],[2018.53,1.99],[2019.04,2.04],[2019.3,2.05],[2019.58,2.11],[2019.76,2.02],[2019.98,1.96],[2020.24,1.87],[2020.47,1.87],[2020.71,1.84],[2020.95,1.8],[2021.13,1.75],[2021.31,2.02],[2021.43,2.16],[2021.61,2.34],[2021.73,2.6],[2021.85,2.92],[2021.97,3.28],[2022.09,3.77],[2022.21,4.0],[2022.33,4.13],[2022.45,4.67],[2022.57,4.89],[2022.66,5.0],[2022.81,5.0],[2022.99,4.91],[2023.17,4.83],[2023.32,4.89],[2023.46,4.62],[2023.58,4.4],[2023.7,3.95],[2023.82,3.68],[2023.94,3.5],[2024.12,3.28],[2024.3,3.01],[2024.48,2.92],[2024.66,2.85],[2024.84,2.83],[2025.02,2.78],[2025.2,2.7],[2025.38,2.72],[2025.56,2.78],[2025.68,2.7],[2025.8,2.58],[2025.98,2.47],[2026.16,2.43],[2026.34,2.4],[2026.49,2.27]];

// ---------------- CHART ----------------
const svg = d3.select("#chart");
const plot = {left:163, right:2466, top:385, bottom:1319, gridRight:2469};
const t0 = Date.UTC(1990,5,1);
const toDate = yr => new Date(t0 + (yr - 1990.5) * 365.25 * 864e5);

const x = d3.scaleUtc().domain([new Date(t0), toDate(2026.5)]).range([plot.left, plot.right]);
const y = d3.scaleLinear().domain([0, 8]).range([plot.bottom, plot.top]);

const FONT = 'Roboto, "Liberation Sans", sans-serif';
const meas = svg.append("text").attr("font-size",38).style("font-family",FONT);
function natural(str, weight){ meas.attr("font-weight",weight).text(str); return meas.node().getComputedTextLength(); }
const sxTitle = 692 / natural("Core inflation and underlying inflation gauges", 400);
const sxLegend = 487 / natural("Cleveland Fed 16% trimmed-mean", 400);
const sxTick = 126 / natural("06/1990", 300);
const sxAxisTitle = 247 / natural("Inflation rate (%)", 400);
meas.remove();

function label(parent, px, py, str, opts){
  const o = Object.assign({size:38, weight:400, sx:1, anchor:"start", rotate:0}, opts||{});
  return parent.append("text")
    .attr("transform", `translate(${px},${py})` + (o.rotate ? ` rotate(${o.rotate})` : "") + ` scale(${o.sx},1)`)
    .attr("font-size", o.size).attr("font-weight", o.weight)
    .attr("text-anchor", o.anchor).style("font-family", FONT)
    .text(str);
}

// Title
label(svg, 37, 65, "Core inflation and underlying inflation gauges", {sx:sxTitle});

// Gridlines
svg.append("g").selectAll("line").data(yTicks).join("line")
  .attr("x1", plot.left).attr("x2", plot.gridRight)
  .attr("y1", d => y(d)).attr("y2", d => y(d))
  .attr("stroke", "#565b62")
  .attr("stroke-width", d => d === 0 ? 4 : 2);

// Y tick labels
yTicks.forEach(v => label(svg, 141, y(v) + 13, d3.format(".1f")(v), {anchor:"end", weight:300, sx:sxTick}));

// X tick labels
const xTickDates = xTickLabels.map(s => new Date(Date.UTC(+s.slice(3), +s.slice(0,2) - 1, 1)));
xTickLabels.forEach((s, i) => {
  let px = x(xTickDates[i]);
  if (i === xTickLabels.length - 1) px -= 5;
  label(svg, px, 1404, s, {anchor:"middle", weight:300, sx:sxTick});
});

// Y axis title
label(svg, 66, 853, "Inflation rate (%)", {anchor:"middle", rotate:-90, sx:sxAxisTitle});

// Series (drawn light to dark, colored on top)
const series = [
  {data:dallasPCE, color:"#cacaca", w:4},
  {data:medianPCE, color:"#b3b3b3", w:4},
  {data:stickyCPI, color:"#9f9f9f", w:4},
  {data:trimmedCPI, color:"#888888", w:4},
  {data:medianCPI, color:"#6f6f6f", w:4},
  {data:coreCPI, color:"#00557f", w:5.5},
  {data:corePCE, color:"#ee3a43", w:5.5}
];
const line = d3.line().x(d => x(toDate(d[0]))).y(d => y(d[1]));
const lg = svg.append("g").attr("fill","none").attr("stroke-linejoin","round").attr("stroke-linecap","round");
series.forEach(s => lg.append("path").attr("d", line(s.data)).attr("stroke", s.color).attr("stroke-width", s.w));

// Legend
const legendItems = [
  {lines:["Cleveland Fed median CPI","(SA, 12-month % change)"], color:"#6f6f6f", col:0, row:0},
  {lines:["Cleveland Fed 16% trimmed-mean","CPI (SA, 12-month % change)"], color:"#888888", col:1, row:0},
  {lines:["Atlanta Fed sticky CPI","(SA, 12-month % change)"], color:"#9f9f9f", col:2, row:0},
  {lines:["Cleveland Fed median PCE","Inflation (SA, 12-month % change)"], color:"#b3b3b3", col:0, row:1},
  {lines:["Dallas Fed trimmed-mean PCE","(12-month % change)"], color:"#cacaca", col:1, row:1},
  {lines:["Core CPI (year-over-year)"], color:"#00557f", col:2, row:1},
  {lines:["Core PCE (year-over-year)"], color:"#ee3a43", col:2, row:2}
];
const colX = [944, 1517, 2107];
const rowY = [110, 232, 308];
const leg = svg.append("g");
legendItems.forEach(it => {
  const sx0 = colX[it.col], cy = rowY[it.row];
  leg.append("line").attr("x1", sx0 + 4).attr("x2", sx0 + 35).attr("y1", cy).attr("y2", cy)
    .attr("stroke", it.color).attr("stroke-width", 8).attr("stroke-linecap", "round");
  it.lines.forEach((t, k) => label(leg, sx0 + 54, cy + 14 + k * 49, t, {sx:sxLegend}));
});
</script>
</body></html>
